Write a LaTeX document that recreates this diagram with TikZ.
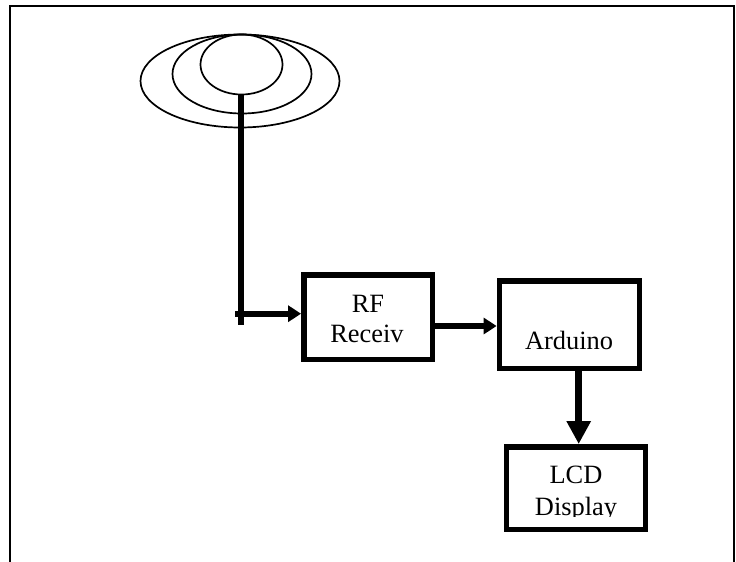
\documentclass[tikz,border=0pt]{standalone}
\usepackage{fontspec}
\setmainfont{Liberation Serif}
\usetikzlibrary{shapes.geometric,arrows.meta}
\tikzset{
  x=1pt,y=-1pt,
  frameline/.style={line width=2pt,black},
  dish/.style={draw,ellipse,line width=1.7pt,inner sep=0pt,fill=none},
  blockbox/.style={draw,rectangle,line width=5.8pt,inner sep=0pt},
  blocktext/.style={anchor=base,inner sep=0pt,font=\fontsize{26.4pt}{30pt}\selectfont},
  mast/.style={line width=5.8pt},
  link/.style={line width=5.8pt,-{Triangle[length=13pt,width=16pt]}},
  biglink/.style={line width=7.5pt,-{Triangle[length=23pt,width=23pt]}},
}
\begin{document}
\begin{tikzpicture}
\useasboundingbox (0,0) rectangle (736,562);
\fill[white] (0,0) rectangle (736,562);
\draw[frameline] (9.5,562) -- (9.5,6) -- (734,6) -- (734,562);
% antenna
\node[dish,minimum width=199pt,minimum height=93pt] (outer) at (240,81) {};
\node[dish,minimum width=139pt,minimum height=79pt] (middle) at (242,74) {};
\node[dish,minimum width=82pt,minimum height=60pt] (inner) at (241.5,64.5) {};
% blocks
\node[blockbox,minimum width=128.5pt,minimum height=84.5pt] (rf) at (368.2,317.2) {};
\node[blockbox,minimum width=140pt,minimum height=87.5pt] (arduino) at (569.5,324.8) {};
\node[blockbox,minimum width=139pt,minimum height=82.5pt] (lcd) at (576,488.2) {};
% labels
\node[blocktext] (rfa) at (368,312) {RF};
\node[blocktext] (rfb) at (367,342) {Receiv};
\node[blocktext] (ard) at (569,349) {Arduino};
\node[blocktext] (lcda) at (576,483) {LCD};
\begin{scope}
\clip (510,490) rectangle (642,516);
\node[blocktext] (lcdb) at (576,515) {Display};
\end{scope}
% connectors
\coordinate (mastend) at (241.3,325);
\coordinate (stub) at (235,313.7);
\draw[mast] (inner.south -| mastend) -- (mastend);
\draw[link] (stub) -- (stub -| rf.west);
\coordinate (rfout) at (rf.east |- 0,326);
\draw[link] (rf.east |- rfout) -- (arduino.west |- rfout);
\coordinate (ardout) at (578.7,0);
\draw[biglink] (arduino.south -| ardout) -- (lcd.north -| ardout);
\end{tikzpicture}
\end{document}
